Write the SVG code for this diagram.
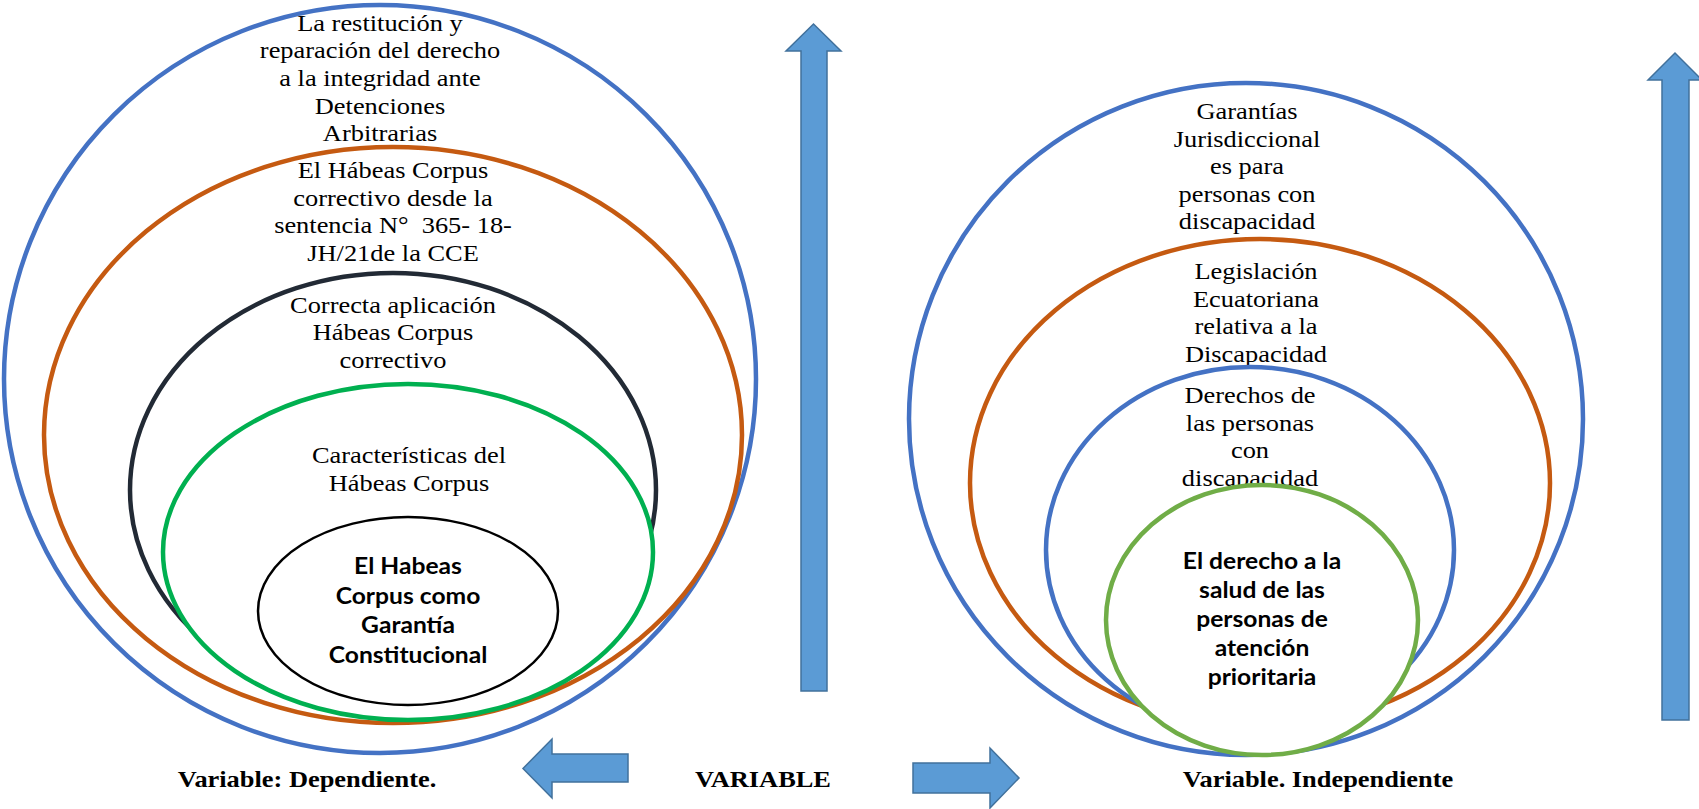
<svg xmlns="http://www.w3.org/2000/svg" width="1699" height="809" viewBox="0 0 1699 809">
<style>
.t{font-family:"Liberation Serif","Times New Roman",serif;font-size:24px;fill:#000;text-anchor:middle}
.b{font-family:Lato,"Open Sans",sans-serif;font-weight:bold;font-size:22px;fill:#000;text-anchor:middle}
.lb{font-family:"Liberation Serif","Times New Roman",serif;font-weight:bold;font-size:24px;fill:#000;text-anchor:middle}
.e{fill:#fff;stroke-width:4.5}
.arr{fill:#5b9bd5;stroke:#41719c;stroke-width:1.5;stroke-linejoin:miter}
</style>
<rect width="1699" height="809" fill="#fff"/>

<!-- LEFT -->
<g id="left-blue">
<ellipse class="e" cx="380" cy="379" rx="376" ry="374" stroke="#4472c4"/>
<g transform="translate(380,0) scale(1.1,1)">
<text class="t" x="0" y="31">La restitución y</text>
<text class="t" x="0" y="58">reparación del derecho</text>
<text class="t" x="0" y="86">a la integridad ante</text>
<text class="t" x="0" y="114">Detenciones</text>
<text class="t" x="0" y="141">Arbitrarias</text>
</g>
</g>
<g id="left-orange">
<ellipse class="e" cx="393" cy="435" rx="349" ry="288" stroke="#c55a11" stroke-width="5"/>
<g transform="translate(393,0) scale(1.1,1)">
<text class="t" x="0" y="178">El Hábeas Corpus</text>
<text class="t" x="0" y="206">correctivo desde la</text>
<text class="t" x="0" y="233" xml:space="preserve">sentencia N°  365- 18-</text>
<text class="t" x="0" y="261">JH/21de la CCE</text>
</g>
</g>
<g id="left-dark">
<ellipse class="e" cx="393" cy="490" rx="263" ry="217" stroke="#222a35"/>
<g transform="translate(393,0) scale(1.1,1)">
<text class="t" x="0" y="313">Correcta aplicación</text>
<text class="t" x="0" y="340">Hábeas Corpus</text>
<text class="t" x="0" y="368">correctivo</text>
</g>
</g>
<g id="left-green">
<ellipse class="e" cx="408" cy="552" rx="245" ry="168" stroke="#00b050" stroke-width="5"/>
<g transform="translate(409,0) scale(1.1,1)">
<text class="t" x="0" y="463">Características del</text>
<text class="t" x="0" y="491">Hábeas Corpus</text>
</g>
</g>
<g id="left-core">
<ellipse cx="408" cy="611" rx="150" ry="94" fill="#fff" stroke="#000" stroke-width="2.5"/>
<g transform="translate(408,0) scale(1.12,1)">
<text class="b" x="0" y="574">El Habeas</text>
<text class="b" x="0" y="604">Corpus como</text>
<text class="b" x="0" y="633">Garantía</text>
<text class="b" x="0" y="663">Constitucional</text>
</g>
</g>

<!-- RIGHT -->
<g id="right-blue">
<ellipse class="e" cx="1246" cy="419" rx="337" ry="336" stroke="#4472c4"/>
<g transform="translate(1247,0) scale(1.1,1)">
<text class="t" x="0" y="119">Garantías</text>
<text class="t" x="0" y="147">Jurisdiccional</text>
<text class="t" x="0" y="174">es para</text>
<text class="t" x="0" y="202">personas con</text>
<text class="t" x="0" y="229">discapacidad</text>
</g>
</g>
<g id="right-orange">
<ellipse class="e" cx="1260" cy="483" rx="290" ry="244" stroke="#c55a11"/>
<g transform="translate(1256,0) scale(1.1,1)">
<text class="t" x="0" y="279">Legislación</text>
<text class="t" x="0" y="307">Ecuatoriana</text>
<text class="t" x="0" y="334">relativa a la</text>
<text class="t" x="0" y="362">Discapacidad</text>
</g>
</g>
<g id="right-innerblue">
<ellipse class="e" cx="1250" cy="550" rx="204" ry="183" stroke="#4472c4"/>
<g transform="translate(1250,0) scale(1.1,1)">
<text class="t" x="0" y="403">Derechos de</text>
<text class="t" x="0" y="431">las personas</text>
<text class="t" x="0" y="458">con</text>
<text class="t" x="0" y="486">discapacidad</text>
</g>
</g>
<g id="right-core">
<ellipse class="e" cx="1262" cy="620" rx="156" ry="135" stroke="#70ad47" stroke-width="5"/>
<g transform="translate(1262,0) scale(1.12,1)">
<text class="b" x="0" y="569">El derecho a la</text>
<text class="b" x="0" y="598">salud de las</text>
<text class="b" x="0" y="627">personas de</text>
<text class="b" x="0" y="656">atención</text>
<text class="b" x="0" y="685">prioritaria</text>
</g>
</g>

<!-- ARROWS -->
<g id="connectors">
<polygon class="arr" points="801,691 801,51 786,51 813.5,24 841,51 827,51 827,691"/>
<polygon class="arr" points="1662,720 1662,80 1648,80 1675,53 1702,80 1689,80 1689,720"/>
<polygon class="arr" points="628,754 552,754 552,739 523,768.5 552,798 552,782 628,782"/>
<polygon class="arr" points="913,763 990,763 990,748 1019,778 990,808 990,793 913,793"/>
</g>

<g id="labels">
<g transform="translate(307,0) scale(1.1,1)"><text class="lb" x="0" y="787">Variable: Dependiente.</text></g>
<g transform="translate(763,0) scale(1.1,1)"><text class="lb" x="0" y="787">VARIABLE</text></g>
<g transform="translate(1318,0) scale(1.1,1)"><text class="lb" x="0" y="787">Variable. Independiente</text></g>
</g>
</svg>
